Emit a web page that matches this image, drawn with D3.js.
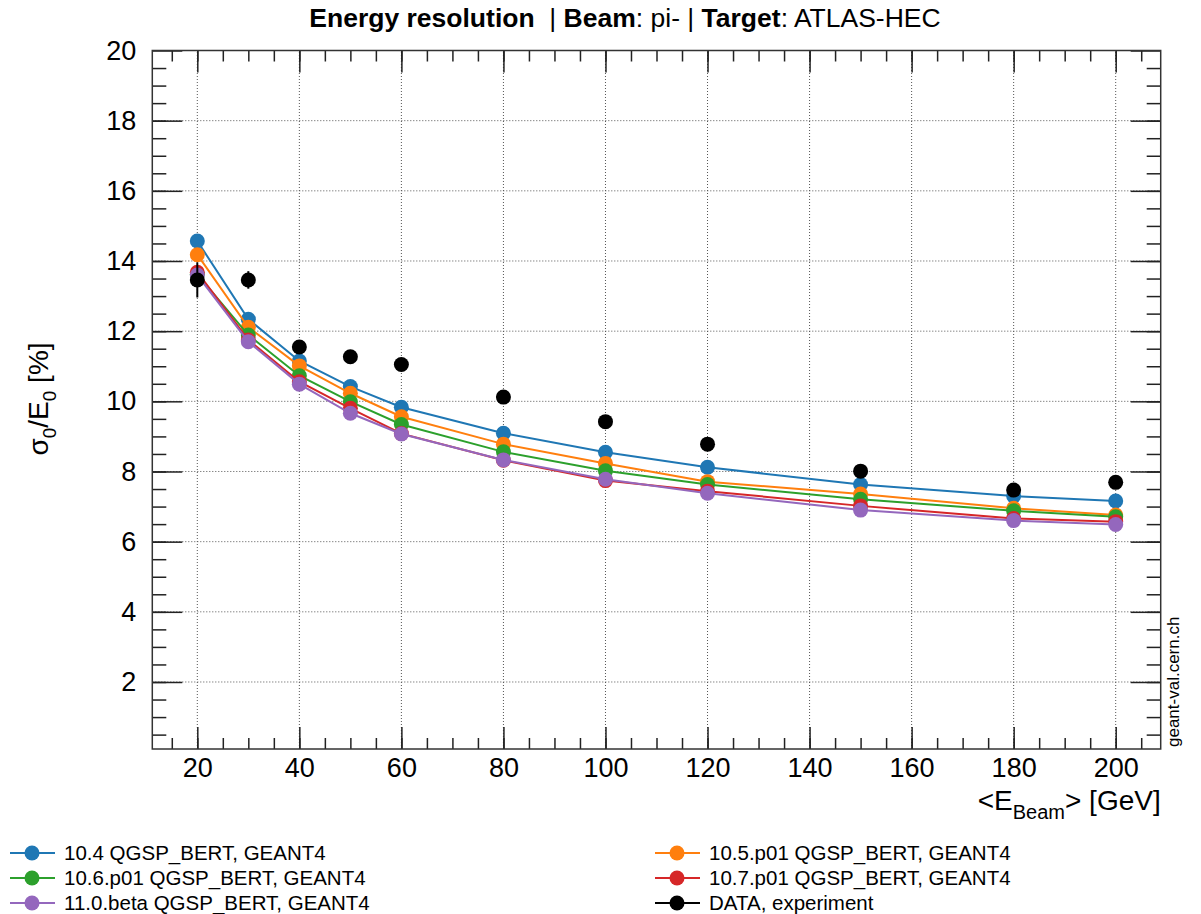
<!DOCTYPE html>
<html>
<head>
<meta charset="utf-8">
<script src="https://cdn.jsdelivr.net/npm/d3@7"></script>
<style>
  body { margin: 0; background: #fff; }
  svg { font-family: "Liberation Sans", Arial, sans-serif; }
</style>
</head>
<body>
<div id="chart"></div>
<script>
var W = 1201, H = 914;
var margin = {top: 50.5, right: 40.3, bottom: 165, left: 152.3};

// beam energies in GeV
var energies = [20, 30, 40, 50, 60, 80, 100, 120, 150, 180, 200];

// sigma0/E0 [%] per geant4 version
var g4_104  = [14.57, 12.34, 11.15, 10.42, 9.83, 9.09, 8.55, 8.12, 7.63, 7.30, 7.16];
var g4_105  = [14.18, 12.11, 11.01, 10.23, 9.56, 8.78, 8.23, 7.71, 7.36, 6.95, 6.76];
var g4_106  = [13.62, 11.89, 10.73, 9.99, 9.34, 8.56, 8.02, 7.63, 7.21, 6.88, 6.71];
var g4_107  = [13.68, 11.75, 10.56, 9.80, 9.08, 8.32, 7.74, 7.44, 7.02, 6.66, 6.57];
var g4_110  = [13.60, 11.70, 10.49, 9.66, 9.07, 8.33, 7.78, 7.38, 6.90, 6.60, 6.49];
var dataVal = [13.46, 13.46, 11.55, 11.27, 11.05, 10.12, 9.42, 8.78, 8.01, 7.47, 7.69];
var dataErr = [0.50, 0.25, 0.10, 0.10, 0.10, 0.10, 0.10, 0.10, 0.10, 0.10, 0.10];

var labels = ["10.4 QGSP_BERT, GEANT4", "10.5.p01 QGSP_BERT, GEANT4", "10.6.p01 QGSP_BERT, GEANT4",
              "10.7.p01 QGSP_BERT, GEANT4", "11.0.beta QGSP_BERT, GEANT4", "DATA, experiment"];
var colors = ["#1f77b4", "#ff7f0e", "#2ca02c", "#d62728", "#9467bd", "#000000"];

var xTicks = [20, 40, 60, 80, 100, 120, 140, 160, 180, 200];
var yTicks = [2, 4, 6, 8, 10, 12, 14, 16, 18, 20];

var series = [g4_104, g4_105, g4_106, g4_107, g4_110, dataVal].map(function(vals, i) {
  return {
    name: labels[i],
    color: colors[i],
    points: energies.map(function(e, j) {
      return {x: e, y: vals[j], err: i == 5 ? dataErr[j] : 0};
    })
  };
});

var svg = d3.select("#chart").append("svg")
  .attr("width", W)
  .attr("height", H);

var width = W - margin.left - margin.right,
    height = H - margin.top - margin.bottom;

var x = d3.scaleLinear().domain([11.18, 208.82]).range([margin.left, margin.left + width]);
var y = d3.scaleLinear().domain([0.09, 20]).range([margin.top + height, margin.top]);

var x0 = margin.left, x1 = margin.left + width, y0 = margin.top + height, y1 = margin.top;

// grid
var grid = svg.append("g").attr("class", "grid");
grid.selectAll("line.v").data(xTicks).enter().append("line")
  .attr("x1", function(d) { return x(d); }).attr("x2", function(d) { return x(d); })
  .attr("y1", y0).attr("y2", y1)
  .attr("stroke", "#555").attr("stroke-width", 1).attr("stroke-dasharray", "1,2");
grid.selectAll("line.h").data(yTicks.filter(function(d) { return d < 20; })).enter().append("line")
  .attr("x1", x0).attr("x2", x1)
  .attr("y1", function(d) { return y(d); }).attr("y2", function(d) { return y(d); })
  .attr("stroke", "#555").attr("stroke-width", 1).attr("stroke-dasharray", "1,2");

// axes with inward ticks on all four sides
var xMinor = d3.range(15, 209, 5);
var yMinor = d3.range(0.5, 20, 0.5);

function styleAxis(g) {
  g.select(".domain").remove();
  g.selectAll(".tick line").attr("stroke", "#222").attr("stroke-width", 1.5);
  g.selectAll(".tick text").attr("font-size", 27).attr("fill", "#000");
}

svg.append("g").attr("transform", "translate(0," + y0 + ")")
  .call(d3.axisBottom(x).tickValues(xMinor).tickSize(-11).tickFormat("")).call(styleAxis);
svg.append("g").attr("transform", "translate(0," + y0 + ")")
  .call(d3.axisBottom(x).tickValues(xTicks).tickSize(-22).tickPadding(9).tickFormat(d3.format("d"))).call(styleAxis);
svg.append("g").attr("transform", "translate(0," + y1 + ")")
  .call(d3.axisTop(x).tickValues(xMinor).tickSize(-11).tickFormat("")).call(styleAxis);
svg.append("g").attr("transform", "translate(0," + y1 + ")")
  .call(d3.axisTop(x).tickValues(xTicks).tickSize(-22).tickFormat("")).call(styleAxis);

svg.append("g").attr("transform", "translate(" + x0 + ",0)")
  .call(d3.axisLeft(y).tickValues(yMinor).tickSize(-14).tickFormat("")).call(styleAxis);
svg.append("g").attr("transform", "translate(" + x0 + ",0)")
  .call(d3.axisLeft(y).tickValues(yTicks).tickSize(-30).tickPadding(16).tickFormat(d3.format("d"))).call(styleAxis);
svg.append("g").attr("transform", "translate(" + x1 + ",0)")
  .call(d3.axisRight(y).tickValues(yMinor).tickSize(-14).tickFormat("")).call(styleAxis);
svg.append("g").attr("transform", "translate(" + x1 + ",0)")
  .call(d3.axisRight(y).tickValues(yTicks).tickSize(-30).tickFormat("")).call(styleAxis);

// frame
svg.append("rect")
  .attr("x", x0).attr("y", y1).attr("width", width).attr("height", height)
  .attr("fill", "none").attr("stroke", "#333").attr("stroke-width", 1.5);

// series
var line = d3.line().x(function(d) { return x(d.x); }).y(function(d) { return y(d.y); });

var sg = svg.selectAll("g.series").data(series).enter().append("g").attr("class", "series");

sg.filter(function(d, i) { return i < 5; }).append("path")
  .attr("d", function(d) { return line(d.points); })
  .attr("fill", "none")
  .attr("stroke", function(d) { return d.color; })
  .attr("stroke-width", 2);

sg.filter(function(d, i) { return i == 5; }).selectAll("line.err")
  .data(function(d) { return d.points; }).enter().append("line")
  .attr("x1", function(d) { return x(d.x); }).attr("x2", function(d) { return x(d.x); })
  .attr("y1", function(d) { return y(d.y - d.err); }).attr("y2", function(d) { return y(d.y + d.err); })
  .attr("stroke", "#000").attr("stroke-width", 2);

sg.selectAll("circle")
  .data(function(d) { return d.points.map(function(p) { return {p: p, c: d.color}; }); })
  .enter().append("circle")
  .attr("cx", function(d) { return x(d.p.x); })
  .attr("cy", function(d) { return y(d.p.y); })
  .attr("r", 7.5)
  .attr("fill", function(d) { return d.c; });

// title
var title = svg.append("text").attr("x", 625).attr("y", 27)
  .attr("text-anchor", "middle").attr("font-size", 26.5)
  .style("white-space", "pre");
title.append("tspan").attr("font-weight", "bold").text("Energy resolution");
title.append("tspan").text("  | ");
title.append("tspan").attr("font-weight", "bold").text("Beam");
title.append("tspan").text(": pi- | ");
title.append("tspan").attr("font-weight", "bold").text("Target");
title.append("tspan").text(": ATLAS-HEC");

// y title
var yt = svg.append("text")
  .attr("transform", "translate(48,399) rotate(-90)")
  .attr("text-anchor", "middle").attr("font-size", 28);
yt.append("tspan").text("σ");
yt.append("tspan").attr("font-size", 19).attr("dy", 8).text("0");
yt.append("tspan").attr("dy", -8).text("/E");
yt.append("tspan").attr("font-size", 19).attr("dy", 8).text("0");
yt.append("tspan").attr("dy", -8).text(" [%]");

// x title
var xt = svg.append("text").attr("x", x1).attr("y", 810)
  .attr("text-anchor", "end").attr("font-size", 28);
xt.append("tspan").text("<E");
xt.append("tspan").attr("font-size", 20).attr("dy", 9).text("Beam");
xt.append("tspan").attr("dy", -9).text("> [GeV]");

// watermark
svg.append("text")
  .attr("transform", "translate(1179,747) rotate(-90)")
  .attr("font-size", 17).attr("fill", "#000")
  .text("geant-val.cern.ch");

// legend
var legendPos = [
  {x: 10, y: 853}, {x: 655, y: 853},
  {x: 10, y: 878}, {x: 655, y: 878},
  {x: 10, y: 903}, {x: 655, y: 903}
];
var lg = svg.selectAll("g.legend").data(series).enter().append("g")
  .attr("class", "legend")
  .attr("transform", function(d, i) { return "translate(" + legendPos[i].x + "," + legendPos[i].y + ")"; });
lg.append("line").attr("x1", 0).attr("x2", 45).attr("y1", 0).attr("y2", 0)
  .attr("stroke", function(d) { return d.color; }).attr("stroke-width", 2);
lg.append("circle").attr("cx", 22).attr("cy", 0).attr("r", 7.5)
  .attr("fill", function(d) { return d.color; });
lg.append("text").attr("x", 54).attr("y", 0).attr("dy", "0.35em")
  .attr("font-size", 20.5).text(function(d) { return d.name; });
</script>
</body>
</html>
